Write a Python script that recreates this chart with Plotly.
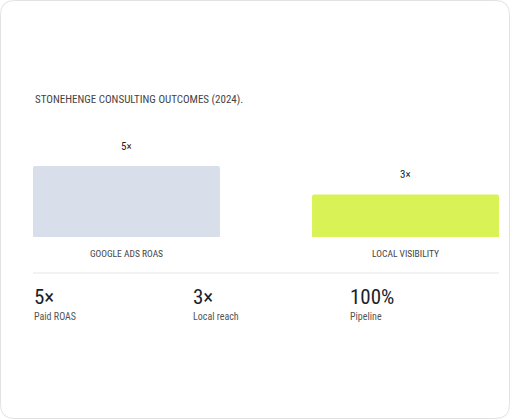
import plotly.graph_objects as go

categories = ["GOOGLE ADS ROAS", "LOCAL VISIBILITY"]
values = [5, 3]
value_labels = ["5×", "3×"]
colors = ["#d8deea", "#d9f255"]
kpi_values = ["5×", "3×", "100%"]
kpi_labels = ["Paid ROAS", "Local reach", "Pipeline"]

W, H = 510, 420
L, R, T, B = 33, 499, 137, 237
def px(x): return (x - L) / (R - L)
def py(y): return (B - y) / (B - T)

FONT = "Liberation Sans Narrow, Roboto Condensed, Arial Narrow, sans-serif"
fig = go.Figure(go.Bar(
    x=[0, 1], y=values, width=0.67, marker=dict(color=colors, line=dict(width=0),
    cornerradius=2), cliponaxis=False, hoverinfo="skip"))

fig.update_layout(
    width=W, height=H, margin=dict(l=L, r=W - R, t=T, b=H - B),
    paper_bgcolor="white", plot_bgcolor="white", showlegend=False,
    font=dict(family=FONT),
    xaxis=dict(range=[-0.335, 1.335], tickvals=[0, 1], ticktext=categories,
               tickfont=dict(size=9.5, color="#444", family=FONT), showgrid=False,
               zeroline=False, showline=False, ticks="outside", ticklen=8,
               tickcolor="rgba(0,0,0,0)"),
    yaxis=dict(range=[0, 5 * 100 / 71], visible=False),
)
def ann(**k):
    d = dict(xref="paper", yref="paper", showarrow=False, xanchor="left", yanchor="middle")
    d.update(k)
    return d
anns = [ann(text="STONEHENGE CONSULTING OUTCOMES (2024).", x=px(33), y=py(100),
            font=dict(size=11, color="#444", family=FONT))]
for i, (v, t) in enumerate(zip(values, value_labels)):
    anns.append(dict(text=t, x=i, y=v, xref="x", yref="y", showarrow=False,
                     yanchor="middle", yshift=20, font=dict(size=11, color="#222", family=FONT)))
for xp, v, lab in zip([33, 192, 349], kpi_values, kpi_labels):
    anns.append(ann(text=v, x=px(xp - 1), y=py(297),
                    font=dict(size=21, color="#1a1f2e", family=FONT)))
    anns.append(ann(text=lab, x=px(xp - 1), y=py(316),
                    font=dict(size=10, color="#555", family=FONT)))
fig.update_layout(annotations=anns)

x0, x1, y0, y1, r = px(0.5), px(509.5), py(0.5), py(418.5), 14
rx, ry = r / (R - L), r / (B - T)
path = (f"M{x0+rx},{y0} L{x1-rx},{y0} Q{x1},{y0} {x1},{y0-ry} L{x1},{y1+ry} "
        f"Q{x1},{y1} {x1-rx},{y1} L{x0+rx},{y1} Q{x0},{y1} {x0},{y1+ry} "
        f"L{x0},{y0-ry} Q{x0},{y0} {x0+rx},{y0} Z")
fig.update_layout(shapes=[
    dict(type="path", path=path, xref="paper", yref="paper",
         line=dict(color="#e2e2e2", width=1), layer="below"),
    dict(type="line", x0=px(33), x1=px(499), y0=py(273), y1=py(273),
         xref="paper", yref="paper", line=dict(color="#eeeeee", width=1.5)),
])
fig.write_html("out.html", config={"displayModeBar": False},
               post_script="document.body.style.margin='0';document.body.style.overflow='hidden';")
